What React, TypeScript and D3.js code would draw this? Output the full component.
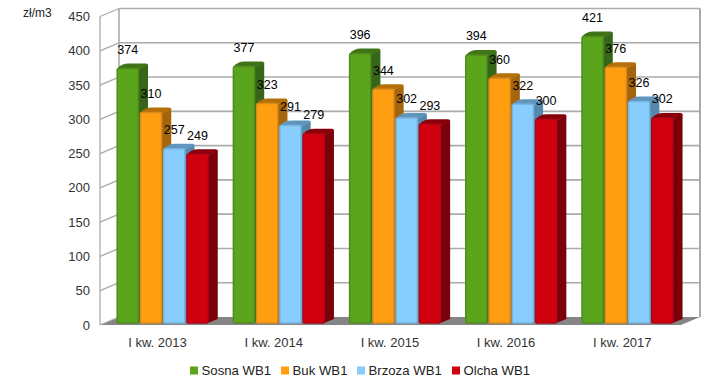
import React from "react";
import * as d3 from "d3";

const categories = ["I kw. 2013", "I kw. 2014", "I kw. 2015", "I kw. 2016", "I kw. 2017"];
const seriesNames = ["Sosna WB1", "Buk WB1", "Brzoza WB1", "Olcha WB1"];
const sosna = [374, 377, 396, 394, 421];
const buk = [310, 323, 344, 360, 376];
const brzoza = [257, 291, 302, 322, 326];
const olcha = [249, 279, 293, 300, 302];
const seriesValues = [sosna, buk, brzoza, olcha];
const yTicks = [0, 50, 100, 150, 200, 250, 300, 350, 400, 450];
const faceColors = ["#5ba51c", "#ff9e10", "#87ceff", "#d0000f"];
const edgeColors = ["#4f8c1e", "#d98c1c", "#78b4e0", "#b00515"];
const sideColors = ["#36661a", "#a5650c", "#5688ac", "#7a0009"];
const topColors = ["#3f7416", "#b5700a", "#6096be", "#8a000a"];
const legendSquareX = [190, 281, 357, 452];

const W = 720, H = 389;
const left = 100, right = 681, y0 = 325, yTop = 16.5;
const dxWall = 19, dyWall = -8;
const dxBar = 10, dyBar = -5;
const barW = 22.5;

const y = d3.scaleLinear().domain([0, 450]).range([y0, yTop]);
const x = d3.scaleBand<string>().domain(categories).range([left, right]).paddingInner(0).paddingOuter(0);
const inner = d3.scaleBand<string>().domain(seriesNames).range([16.5, 109.5]);

const font = "'Liberation Sans', Arial, sans-serif";

export default function App() {
  const backRight = right + dxWall;
  const backLeft = left + dxWall;
  return (
    <svg width={W} height={H} style={{ position: "absolute", left: 0, top: 0, background: "#fff" }} fontFamily={font}>
      <polygon points={`${left},${y0} ${right},${y0} ${backRight},${y0 + dyWall} ${backLeft},${y0 + dyWall}`} fill="#858585" />
      {yTicks.map((t) => (
        <g key={t} stroke="#ababab" fill="none">
          {t > 0 && <line x1={backLeft} x2={backRight} y1={y(t) + dyWall} y2={y(t) + dyWall} strokeWidth={1.6} />}
          <line x1={left} x2={backLeft} y1={y(t)} y2={y(t) + dyWall} strokeWidth={1.3} />
        </g>
      ))}
      <line x1={left} x2={left} y1={yTop} y2={y0} stroke="#ababab" strokeWidth={1.3} />
      <line x1={backLeft} x2={backLeft} y1={yTop + dyWall} y2={y0 + dyWall} stroke="#ababab" strokeWidth={1.6} />
      <line x1={backRight} x2={backRight} y1={yTop + dyWall} y2={y0 + dyWall} stroke="#ababab" strokeWidth={2} />

      {categories.map((c, ci) => (
        <g key={c}>
          {seriesNames.map((s, si) => {
            const v = seriesValues[si][ci];
            const bx = (x(c) as number) + (inner(s) as number);
            const ty = y(v);
            const by = y0 - 2;
            return (
              <g key={s}>
                <path d={`M${bx + barW - 1},${ty + 1} L${bx + barW + dxBar - 1},${ty + dyBar + 1} L${bx + barW + dxBar - 1},${by + dyBar + 1} L${bx + barW - 1},${by}Z`} fill={sideColors[si]} />
                <path d={`M${bx + 1},${ty} Q${bx + 5},${ty + dyBar} ${bx + dxBar + 2},${ty + dyBar} L${bx + barW + dxBar - 3},${ty + dyBar} Q${bx + barW + dxBar - 1},${ty + dyBar} ${bx + barW + dxBar - 1},${ty + dyBar + 2} L${bx + barW - 1},${ty + 1}Z`} fill={topColors[si]} />
                <rect x={bx + 0.7} y={ty} width={barW - 1.4} height={by - ty} rx={1.5} fill={faceColors[si]} stroke={edgeColors[si]} strokeWidth={1.5} />
              </g>
            );
          })}
        </g>
      ))}

      {categories.map((c, ci) =>
        seriesNames.map((s, si) => {
          const v = seriesValues[si][ci];
          const bx = (x(c) as number) + (inner(s) as number);
          return (
            <text key={c + s} x={bx + barW / 2} y={y(v) - 14.5} textAnchor="middle" fontSize={12.5} fill="#000">
              {v}
            </text>
          );
        })
      )}

      {yTicks.map((t) => (
        <text key={t} x={90} y={y(t) + 4.5} textAnchor="end" fontSize={13} fill="#333">
          {t}
        </text>
      ))}
      <text x={23} y={16.5} fontSize={12} fill="#222">zł/m3</text>

      {categories.map((c) => (
        <text key={c} x={(x(c) as number) + 57.5} y={347} textAnchor="middle" fontSize={13} fill="#333">
          {c}
        </text>
      ))}

      {seriesNames.map((s, si) => (
        <g key={s}>
          <rect x={legendSquareX[si]} y={366.5} width={8} height={8} fill={faceColors[si]} />
          <text x={legendSquareX[si] + 11.5} y={375} fontSize={13.2} fill="#222">{s}</text>
        </g>
      ))}
    </svg>
  );
}
